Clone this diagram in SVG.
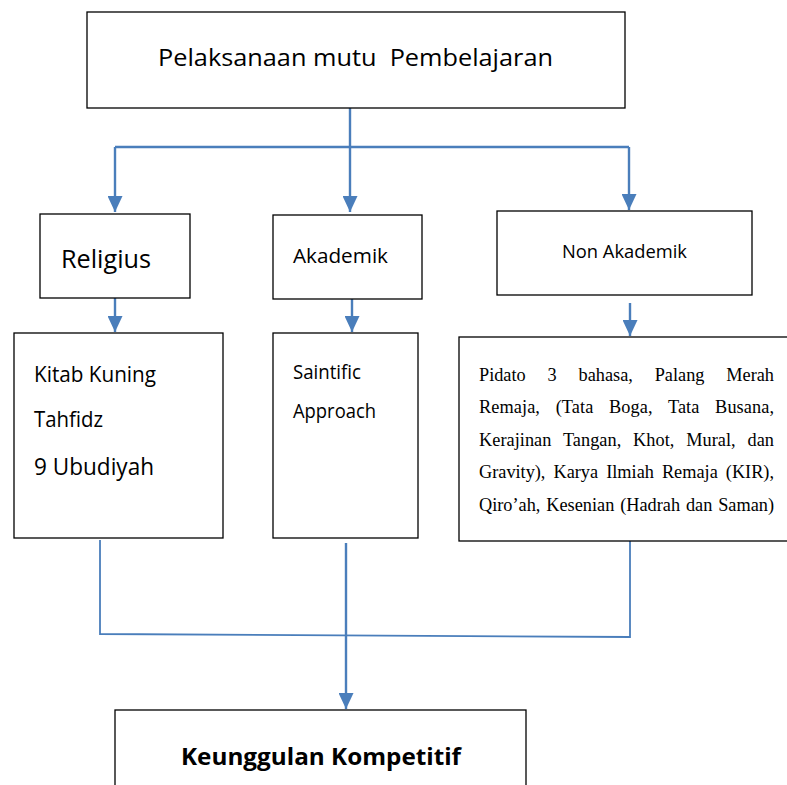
<svg xmlns="http://www.w3.org/2000/svg" width="787" height="785" viewBox="0 0 787 785">
<defs>
<marker id="ah" viewBox="0 0 16 15" refX="16" refY="7.5" markerWidth="16" markerHeight="15" markerUnits="userSpaceOnUse" orient="auto">
<path d="M0,0 L16,7.5 L0,15 Z" fill="#4a7ebb"/>
</marker>
</defs>
<style>
.box{fill:#fff;stroke:#000;stroke-width:1.3}
.c{fill:none;stroke:#4a7ebb;stroke-width:2.4}
.s{font-family:"Open Sans","Noto Sans","Liberation Sans",sans-serif;fill:#000}
.r{font-family:"Liberation Serif","Times New Roman",serif;font-size:18.3px;fill:#000}
</style>
<rect width="787" height="785" fill="#fff"/>
<g id="connectors">
<path class="c" d="M350,108 V212" marker-end="url(#ah)"/>
<path class="c" d="M115,147 H629"/>
<path class="c" d="M115,147 V212" marker-end="url(#ah)"/>
<path class="c" d="M629,147 V210" marker-end="url(#ah)"/>
<path class="c" d="M115,298 V332" marker-end="url(#ah)"/>
<path class="c" d="M352,299 V332" marker-end="url(#ah)"/>
<path class="c" d="M630,303 V336" marker-end="url(#ah)"/>
<path class="c" style="stroke-width:1.8" d="M100,540 V634 L630,637 V540"/>
<path class="c" d="M346,543 V709" marker-end="url(#ah)"/>
</g>
<g id="top">
<rect class="box" x="87" y="12" width="538" height="96"/>
<text class="s" x="158" y="66" font-size="23" textLength="395" lengthAdjust="spacingAndGlyphs" style="white-space:pre">Pelaksanaan mutu  Pembelajaran</text>
</g>
<g id="religius">
<rect class="box" x="40" y="214" width="150" height="84"/>
<text class="s" x="61" y="268" font-size="25" textLength="90" lengthAdjust="spacingAndGlyphs">Religius</text>
</g>
<g id="akademik">
<rect class="box" x="273" y="215" width="149" height="84"/>
<text class="s" x="293" y="263" font-size="20" textLength="95" lengthAdjust="spacingAndGlyphs">Akademik</text>
</g>
<g id="nonakademik">
<rect class="box" x="497" y="211" width="255" height="84"/>
<text class="s" x="562" y="258" font-size="19" textLength="125" lengthAdjust="spacingAndGlyphs">Non Akademik</text>
</g>
<g id="kitab">
<rect class="box" x="14" y="333" width="209" height="205"/>
<text class="s" x="34" y="382" font-size="21" textLength="122" lengthAdjust="spacingAndGlyphs">Kitab Kuning</text>
<text class="s" x="34" y="427" font-size="21" textLength="69" lengthAdjust="spacingAndGlyphs">Tahfidz</text>
<text class="s" x="34" y="475" font-size="23" textLength="120" lengthAdjust="spacingAndGlyphs">9 Ubudiyah</text>
</g>
<g id="saintific">
<rect class="box" x="273" y="333" width="145" height="205"/>
<text class="s" x="293" y="379" font-size="20" textLength="68" lengthAdjust="spacingAndGlyphs">Saintific</text>
<text class="s" x="293" y="418" font-size="20" textLength="83" lengthAdjust="spacingAndGlyphs">Approach</text>
</g>
<g id="kegiatan">
<rect class="box" x="459" y="337" width="335" height="204"/>
<text class="r" x="479" y="381" word-spacing="17.3" textLength="295" lengthAdjust="spacing">Pidato 3 bahasa, Palang Merah</text>
<text class="r" x="479" y="413" word-spacing="11" textLength="295" lengthAdjust="spacing">Remaja, (Tata Boga, Tata Busana,</text>
<text class="r" x="479" y="446" word-spacing="7.2" textLength="295" lengthAdjust="spacing">Kerajinan Tangan, Khot, Mural, dan</text>
<text class="r" x="479" y="478" word-spacing="3.5" textLength="295" lengthAdjust="spacing">Gravity), Karya Ilmiah Remaja (KIR),</text>
<text class="r" x="479" y="511" word-spacing="1.3" textLength="295" lengthAdjust="spacing">Qiro’ah, Kesenian (Hadrah dan Saman)</text>
</g>
<g id="keunggulan">
<rect class="box" x="115" y="710" width="411" height="90"/>
<text class="s" x="181" y="765" font-size="24" font-weight="bold" textLength="280" lengthAdjust="spacingAndGlyphs">Keunggulan Kompetitif</text>
</g>
</svg>
